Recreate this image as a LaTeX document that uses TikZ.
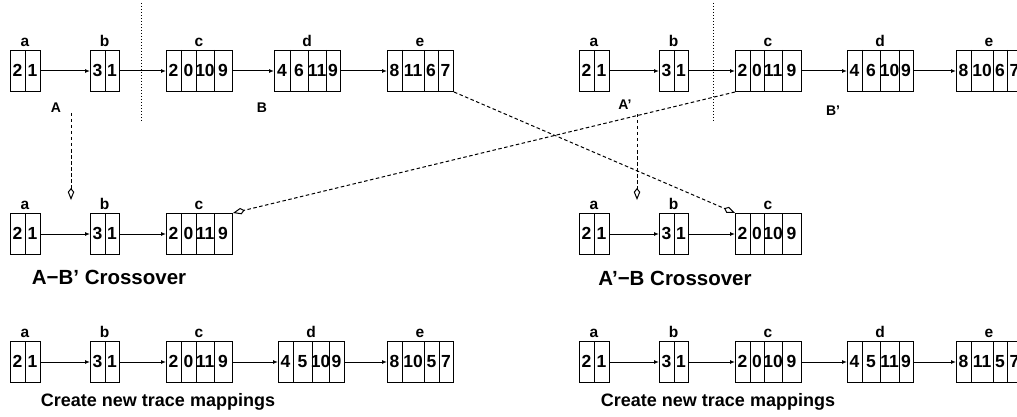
\documentclass[tikz,border=0pt]{standalone}
\usepackage{fontspec}
\setmainfont{Liberation Sans}
\usetikzlibrary{arrows.meta}
\tikzset{
  recbox/.style={draw, line width=1pt, minimum height=41pt, inner sep=0pt, anchor=north west},
  cell/.style={font=\fontsize{17.5}{17.5}\selectfont\bfseries, inner sep=0pt},
  lbl/.style={font=\fontsize{15.5}{15.5}\selectfont\bfseries, inner sep=0pt, anchor=base},
  cellline/.style={line width=1pt},
  link/.style={line width=1pt, -{Latex[length=5pt,width=4pt]}},
  cross/.style={line width=1pt, dash pattern=on 3.5pt off 2.5pt, -{Kite[open, length=12pt, width=6.5pt, inset=4pt]}},
  divider/.style={line width=1pt, dotted},
  caption/.style={font=\fontsize{18}{18}\selectfont\bfseries, inner sep=0pt},
  bigcaption/.style={font=\fontsize{20.5}{20.5}\selectfont\bfseries, inner sep=0pt},
  grp/.style={font=\fontsize{14}{14}\selectfont\bfseries, inner sep=0pt}
}
\newcommand\recd[6]{%
  \pgfmathsetmacro\recw{#3-#2}%
  \node[recbox, minimum width=\recw pt] (#1) at (#2,#4) {};
  \node[lbl] (#1-l) at ({(#2+#3)/2},{#4-3.5}) {#5};
  \foreach \xa/\xb/\t [count=\i] in {#6}{%
    \node[cell] (#1-\i) at ({(\xa+\xb)/2},{#4+20.5}) {\t};
    \ifnum\i>1 \draw[cellline] (\xa,#4) -- (\xa,{#4+41});\fi
  }%
}
\begin{document}
\begin{tikzpicture}[x=1pt, y=-1pt]
\useasboundingbox (0,0) rectangle (1017,417);
\clip (0,0) rectangle (1017,417);
% ---------- top left
\recd{tla}{10}{40}{50}{a}{10/25/2, 25/40/1}
\recd{tlb}{90}{119}{50}{b}{90/105/3, 105/119/1}
\recd{tlc}{166}{232}{50}{c}{166/181/2, 181/196/0, 196/214/10, 214/232/9}
\recd{tld}{274}{340}{50}{d}{274/290/4, 290/308/6, 308/326/11, 326/340/9}
\recd{tle}{387}{453}{50}{e}{387/402/8, 402/424/11, 424/438/6, 438/453/7}
\draw[link] (tla) -- (tlb);
\draw[link] (tlb) -- (tlc);
\draw[link] (tlc) -- (tld);
\draw[link] (tld) -- (tle);
\coordinate (dl1a) at (141,3);
\coordinate (dl1b) at (141,122);
\draw[divider] (dl1a) -- (dl1b);
\node[grp] (gA) at (56,108) {A};
\node[grp] (gB) at (262,108) {B};
% ---------- top right
\recd{tra}{579}{609}{50}{a}{579/594/2, 594/609/1}
\recd{trb}{659}{688}{50}{b}{659/674/3, 674/688/1}
\recd{trc}{735}{801}{50}{c}{735/750/2, 750/764/0, 764/782/11, 782/801/9}
\recd{trd}{847}{913}{50}{d}{847/862/4, 862/880/6, 880/899/10, 899/913/9}
\recd{tre}{956}{1022}{50}{e}{956/971/8, 971/993/10, 993/1007/6, 1007/1022/7}
\draw[link] (tra) -- (trb);
\draw[link] (trb) -- (trc);
\draw[link] (trc) -- (trd);
\draw[link] (trd) -- (tre);
\coordinate (dl2a) at (713,3);
\coordinate (dl2b) at (713,122);
\draw[divider] (dl2a) -- (dl2b);
\node[grp] (gA2) at (625,105) {A’};
\node[grp] (gB2) at (833,111) {B’};
% ---------- middle left
\recd{mla}{10}{40}{213}{a}{10/25/2, 25/40/1}
\recd{mlb}{90}{119}{213}{b}{90/105/3, 105/119/1}
\recd{mlc}{166}{232}{213}{c}{166/181/2, 181/196/0, 196/214/11, 214/232/9}
\draw[link] (mla) -- (mlb);
\draw[link] (mlb) -- (mlc);
\node[bigcaption] (cap1) at (109,277) {A−B’ Crossover};
% ---------- middle right
\recd{mra}{579}{609}{213}{a}{579/594/2, 594/609/1}
\recd{mrb}{659}{688}{213}{b}{659/674/3, 674/688/1}
\recd{mrc}{735}{801}{213}{c}{735/750/2, 750/764/0, 764/782/10, 782/801/9}
\draw[link] (mra) -- (mrb);
\draw[link] (mrb) -- (mrc);
\node[bigcaption] (cap2) at (675,278) {A’−B Crossover};
% ---------- crossover connectors
\draw[cross] (trc.south west) -- (mlc.north east);
\draw[cross] (tle.south east) -- (mrc.north west);
\coordinate (vA1) at (71,113);
\coordinate (vA2) at (71,200);
\draw[cross] (vA1) -- (vA2);
\coordinate (vB1) at (637,114);
\coordinate (vB2) at (637,200);
\draw[cross] (vB1) -- (vB2);
% ---------- bottom left
\recd{bla}{10}{40}{341}{a}{10/25/2, 25/40/1}
\recd{blb}{90}{119}{341}{b}{90/105/3, 105/119/1}
\recd{blc}{166}{232}{341}{c}{166/181/2, 181/196/0, 196/214/11, 214/232/9}
\recd{bld}{278}{344}{341}{d}{278/293/4, 293/312/5, 312/329/10, 329/344/9}
\recd{ble}{387}{453}{341}{e}{387/402/8, 402/424/10, 424/439/5, 439/453/7}
\draw[link] (bla) -- (blb);
\draw[link] (blb) -- (blc);
\draw[link] (blc) -- (bld);
\draw[link] (bld) -- (ble);
\node[caption] (cap3) at (158,402) {Create new trace mappings};
% ---------- bottom right
\recd{bra}{579}{609}{341}{a}{579/594/2, 594/609/1}
\recd{brb}{659}{688}{341}{b}{659/674/3, 674/688/1}
\recd{brc}{735}{801}{341}{c}{735/750/2, 750/764/0, 764/782/10, 782/801/9}
\recd{brd}{847}{913}{341}{d}{847/862/4, 862/880/5, 880/899/11, 899/913/9}
\recd{bre}{956}{1022}{341}{e}{956/971/8, 971/993/11, 993/1007/5, 1007/1022/7}
\draw[link] (bra) -- (brb);
\draw[link] (brb) -- (brc);
\draw[link] (brc) -- (brd);
\draw[link] (brd) -- (bre);
\node[caption] (cap4) at (718,402) {Create new trace mappings};
\end{tikzpicture}
\end{document}
